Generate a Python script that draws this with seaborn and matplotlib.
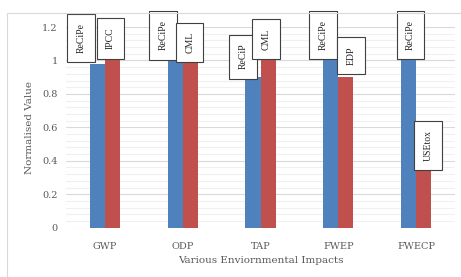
import pandas as pd
import matplotlib.pyplot as plt
import seaborn as sns
from matplotlib.patches import Rectangle
from matplotlib.ticker import MultipleLocator

# values
impacts = ['GWP', 'ODP', 'TAP', 'FWEP', 'FWECP']
recipe_vals = [0.98, 1.0, 0.90, 1.0, 1.0]
other_vals = [1.0, 1.0, 1.0, 0.90, 0.35]
recipe_labels = ['ReCiPe', 'ReCiPe', 'ReCiP', 'ReCiPe', 'ReCiPe']
other_labels = ['IPCC', 'CML', 'CML', 'EDP', 'USEtox']

df = pd.DataFrame({
    'impact': impacts * 2,
    'value': recipe_vals + other_vals,
    'method': ['ReCiPe'] * 5 + ['Other'] * 5,
})

sns.set_theme(style='white')
plt.rcParams['font.family'] = ['DejaVu Serif']

grey = '#595959'
fig = plt.figure(figsize=(4.61, 2.77), dpi=100)
ax = fig.add_axes([0.1432, 0.178, 0.8438, 0.7245])

sns.barplot(data=df, x='impact', y='value', hue='method', palette=['#4F81BD', '#C0504D'],
            width=0.386, saturation=1, legend=False, linewidth=0, ax=ax)

ax.set_ylim(0, 1.2)
ax.yaxis.set_minor_locator(MultipleLocator(0.04))
ax.set_yticks([0, 0.2, 0.4, 0.6, 0.8, 1.0, 1.2])
ax.set_yticklabels(['0', '0.2', '0.4', '0.6', '0.8', '1', '1.2'])
ax.grid(axis='y', which='major', color='#d9d9d9', lw=0.8)
ax.grid(axis='y', which='minor', color='#f0f0f0', lw=0.8)
ax.set_axisbelow(True)
for s in ax.spines.values():
    s.set_visible(False)
ax.tick_params(which='both', length=0, labelsize=7, colors=grey, pad=6)
ax.tick_params(axis='x', pad=10)
ax.set_xlabel('Various Enviornmental Impacts', fontsize=7.5, color=grey, labelpad=4)
ax.set_ylabel('Normalised Value', fontsize=7.5, color=grey, labelpad=6)

# data label boxes, offsets in pixels from each bar top
offsets_recipe = [(-16.5, 26), (-12, 25), (-10, 20.5), (-8, 25.5), (2, 25.5)]
offsets_other = [(-2, 22), (-0.5, 18), (-2, 21.5), (5, 21.5), (4.5, 23.5)]
box = dict(boxstyle='square,pad=0.95', fc='white', ec='#404040', lw=0.8)
for cont, labels, offs in [(ax.containers[0], recipe_labels, offsets_recipe),
                           (ax.containers[1], other_labels, offsets_other)]:
    for bar, lab, (dx, dy) in zip(cont, labels, offs):
        x = bar.get_x() + bar.get_width() / 2
        y = bar.get_height()
        ax.annotate(lab, (x, y), xytext=(dx, dy), textcoords='offset pixels',
                    rotation=90, ha='center', va='center', fontsize=7,
                    family='Liberation Serif', bbox=box, annotation_clip=False, zorder=5)

# chart border
fig.patches.append(Rectangle((7 / 461, -0.2), 1.2, 1.2 - 13 / 277,
                             transform=fig.transFigure, fill=False, ec='#d9d9d9', lw=0.8))

fig.savefig('out.png', dpi=100)
